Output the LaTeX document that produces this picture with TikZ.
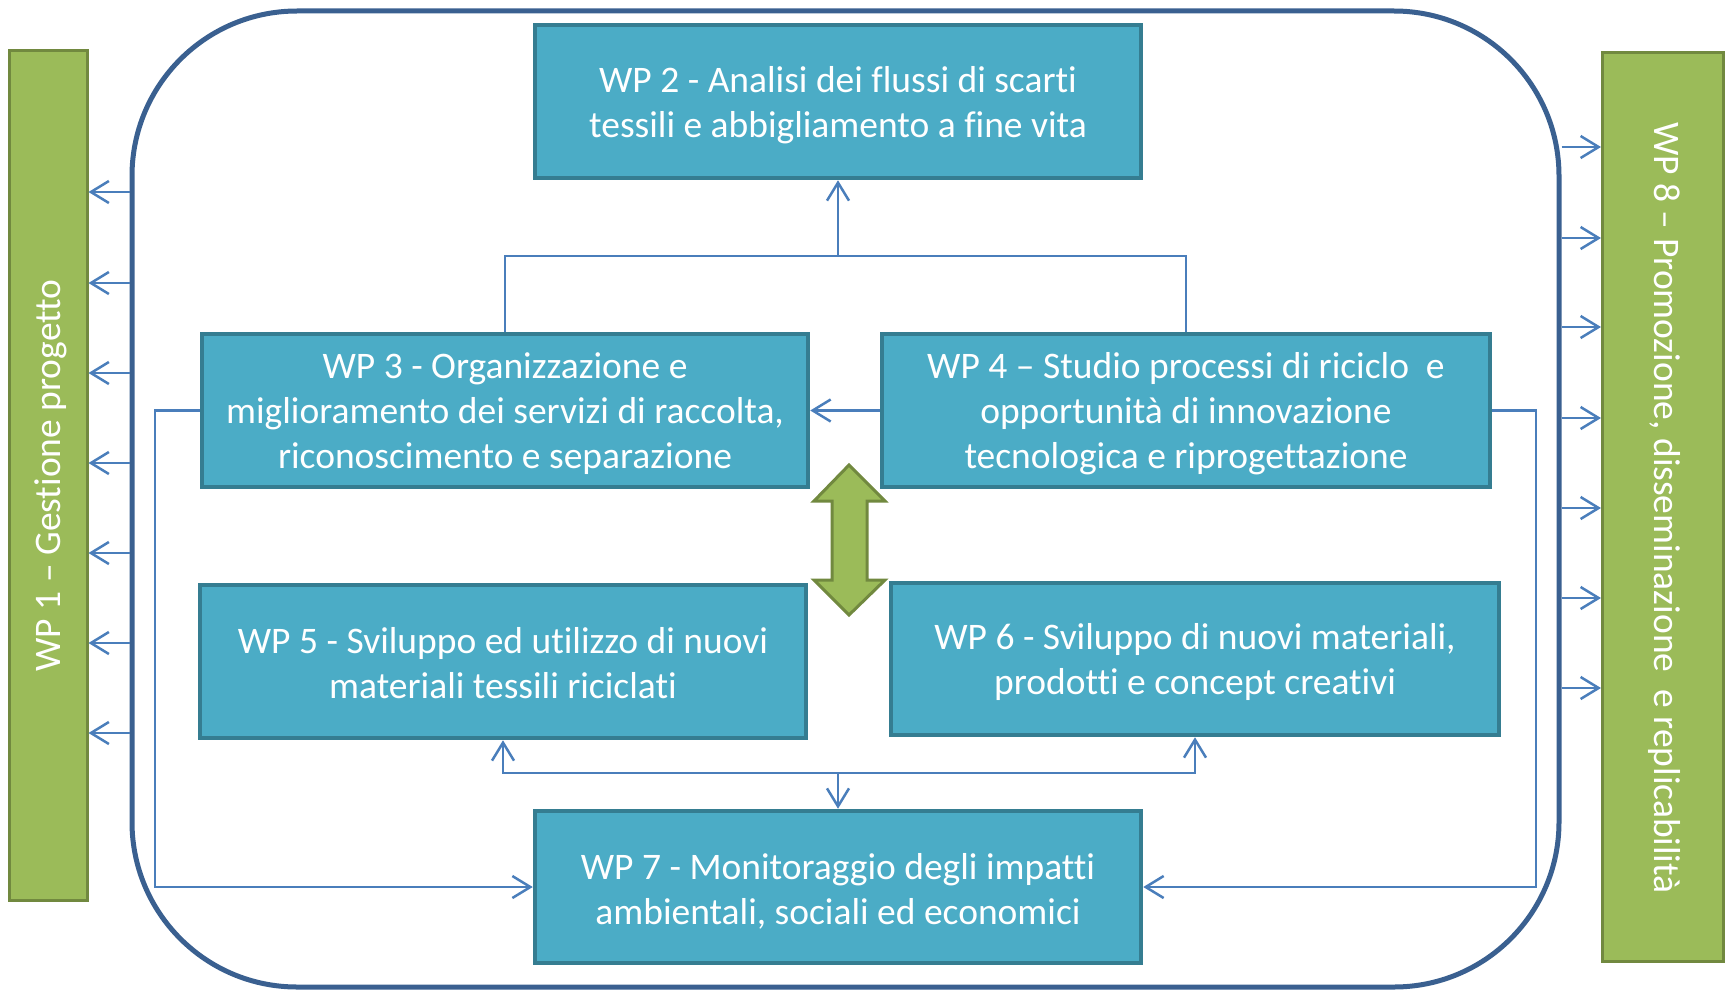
\documentclass[tikz,border=0pt]{standalone}
\usepackage{fontspec}
\setmainfont[Ligatures=NoCommon]{Carlito}
\usetikzlibrary{arrows.meta}
\definecolor{boxfill}{HTML}{4BACC6}
\definecolor{boxline}{HTML}{357D91}
\definecolor{barfill}{HTML}{9BBB59}
\definecolor{barline}{HTML}{71893F}
\definecolor{connblue}{HTML}{4A7EBB}
\definecolor{framec}{HTML}{3A6090}
\begin{document}
\begin{tikzpicture}[x=1pt,y=-1pt,
  wpbox/.style={draw=boxline, fill=boxfill, line width=4.5pt, inner sep=0pt},
  boxtext/.style={text=white, align=center, inner sep=0pt,
    font=\fontsize{37.5}{45}\selectfont},
  bar/.style={draw=barline, fill=barfill, line width=3pt, inner sep=0pt},
  bartext/.style={text=white, inner sep=0pt, font=\fontsize{37.5}{45}\selectfont},
  plainline/.style={draw=connblue, line width=2.5pt},
  conn/.style={plainline, -{Straight Barb[length=18pt,width=22pt]}}]
\useasboundingbox (0,0) rectangle (1734,990);
% frame
\node[draw=framec, line width=5pt, rounded corners=165pt, minimum width=1427pt,
  minimum height=976pt, inner sep=0pt] (frame) at (845.5,499) {};
% side bars
\node[bar, minimum width=78pt, minimum height=849pt] (wp1) at (48,475.5) {};
\node[bartext, rotate=90] (t1) at (51,475.5) {WP 1 – Gestione progetto};
\node[bar, minimum width=121pt, minimum height=908pt] (wp8) at (1663,507) {};
\node[bartext, rotate=-90] (t8) at (1664,508) {WP 8 – Promozione, disseminazione\ \ e replicabilità};
% boxes
\node[wpbox, minimum width=606pt, minimum height=153pt] (wp2) at (838,101.5) {};
\node[boxtext] (wp2t) at ([yshift=-3.5pt]wp2.center)
  {WP 2 - Analisi dei flussi di scarti\\tessili e abbigliamento a fine vita};
\node[wpbox, minimum width=606pt, minimum height=153pt] (wp3) at (505,410.5) {};
\node[boxtext] (wp3t) at ([yshift=-3pt]wp3.center)
  {WP 3 - Organizzazione e\\miglioramento dei servizi di raccolta,\\riconoscimento e separazione};
\node[wpbox, minimum width=608pt, minimum height=153pt] (wp4) at (1186,410.5) {};
\node[boxtext] (wp4t) at ([yshift=-3pt]wp4.center)
  {WP 4 – Studio processi di riciclo\ \ e\\opportunità di innovazione\\tecnologica e riprogettazione};
\node[wpbox, minimum width=606pt, minimum height=153pt] (wp5) at (503,661.5) {};
\node[boxtext] (wp5t) at ([yshift=-1.5pt]wp5.center)
  {WP 5 - Sviluppo ed utilizzo di nuovi\\materiali tessili riciclati};
\node[wpbox, minimum width=608pt, minimum height=152pt] (wp6) at (1195,659) {};
\node[boxtext] (wp6t) at ([yshift=-3pt]wp6.center)
  {WP 6 - Sviluppo di nuovi materiali,\\prodotti e concept creativi};
\node[wpbox, minimum width=606pt, minimum height=152pt] (wp7) at (838,887) {};
\node[boxtext] (wp7t) at ([yshift=-4pt]wp7.center)
  {WP 7 - Monitoraggio degli impatti\\ambientali, sociali ed economici};
% double arrow
\filldraw[fill=barfill, draw=barline, line width=3pt, line join=miter]
  (849,465) -- (814,501) -- (832,501) -- (832,580) -- (814,580) -- (849,615)
  -- (885,580) -- (867,580) -- (867,501) -- (885,501) -- cycle;
% connectors
\coordinate (j1) at (838,256);
\draw[plainline] (wp3.north) |- (j1) -| (wp4.north);
\draw[conn] (j1) -- (wp2.south);
\draw[conn] (wp4.west) -- (wp3.east);
\coordinate (l1) at (155,410);
\draw[conn] (wp3.west) -- (wp3.west -| l1) |- (wp7.west);
\coordinate (r1) at (1536,410);
\draw[conn] (wp4.east) -- (wp4.east -| r1) |- (wp7.east);
\coordinate (j2) at (838,773);
\draw[conn] (j2) -- (wp7.north);
\draw[conn] (j2) -| (wp5.south);
\draw[conn] (j2) -| (wp6.south);
% side arrows
\foreach \yy in {192,283,373,463,553,643,733} {
  \coordinate (ly) at (0,\yy);
  \draw[conn] (frame.west |- ly) -- (wp1.east |- ly);
}
\foreach \yy in {147,238,327,418,508,598,688} {
  \coordinate (ry) at (0,\yy);
  \draw[conn] (frame.east |- ry) -- (wp8.west |- ry);
}
\end{tikzpicture}
\end{document}
